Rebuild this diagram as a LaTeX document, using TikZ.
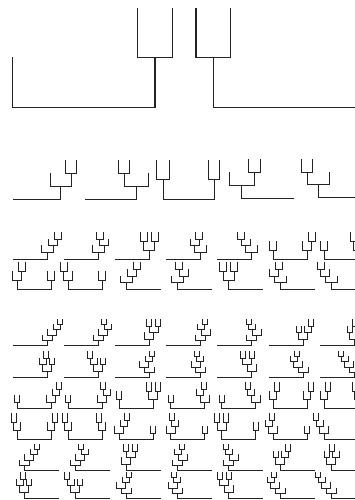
\documentclass[tikz,border=0pt]{standalone}
\usetikzlibrary{calc}
\definecolor{inkgrey}{RGB}{35,35,35}

\tikzset{
  branch/.style={draw=inkgrey, line width=1pt, line cap=rect},
}

% one dendrogram: leaf stub, inner node, root bar
\newcommand{\lv}{10}
\newcommand{\lf}{\draw[branch] (0,0) -- (0,-\lv);}
\newcommand{\br}[3]{\draw[branch] (-#1,0) -- (#1,0);
  \begin{scope}[shift={(-#1,0)}]#2\end{scope}
  \begin{scope}[shift={(#1,0)}]#3\end{scope}}
\newcommand{\nd}[3]{\draw[branch] (0,0) -- (0,-\lv);
  \begin{scope}[shift={(0,-\lv)}]\br{#1}{#2}{#3}\end{scope}}
\newcommand{\dtree}[4]{\begin{scope}[shift={(#1,#2)}]\pgfmathsetmacro{\lv}{#3}#4\end{scope}}

% half widths of the bars and height of a row
\newcommand{\hwr}{17}
\newcommand{\hwa}{3.5}
\newcommand{\hwb}{4.5}
\newcommand{\hwbb}{5.5}
\newcommand{\hwc}{6}
\newcommand{\hwd}{7}
\newcommand{\secH}{27}

% subtrees
\newcommand{\chr}{\nd{\hwa}{\lf}{\lf}}
\newcommand{\thP}{\nd{\hwb}{\lf}{\chr}}
\newcommand{\thQ}{\nd{\hwb}{\chr}{\lf}}
\newcommand{\frA}{\nd{\hwc}{\lf}{\thP}}
\newcommand{\frB}{\nd{\hwc}{\lf}{\thQ}}
\newcommand{\frC}{\nd{\hwbb}{\chr}{\chr}}
\newcommand{\frD}{\nd{\hwc}{\thP}{\lf}}
\newcommand{\frE}{\nd{\hwc}{\thQ}{\lf}}
\newcommand{\fvA}{\nd{\hwd}{\lf}{\frA}}
\newcommand{\fvB}{\nd{\hwd}{\lf}{\frB}}
\newcommand{\fvC}{\nd{\hwc}{\lf}{\frC}}
\newcommand{\fvD}{\nd{\hwd}{\lf}{\frD}}
\newcommand{\fvE}{\nd{\hwd}{\lf}{\frE}}
\newcommand{\fvF}{\nd{\hwc}{\chr}{\thP}}
\newcommand{\fvG}{\nd{\hwc}{\chr}{\thQ}}
\newcommand{\fvH}{\nd{\hwc}{\thP}{\chr}}
\newcommand{\fvI}{\nd{\hwc}{\thQ}{\chr}}
\newcommand{\fvJ}{\nd{\hwd}{\frA}{\lf}}
\newcommand{\fvK}{\nd{\hwd}{\frB}{\lf}}
\newcommand{\fvL}{\nd{\hwc}{\frC}{\lf}}
\newcommand{\fvM}{\nd{\hwd}{\frD}{\lf}}
\newcommand{\fvN}{\nd{\hwd}{\frE}{\lf}}

% whole trees in a column: x0, root y, depth, subtree(s)
\newcommand{\ltree}[4]{\dtree{#1+\hwr}{#2}{\secH/#3}{\br{\hwr}{}{#4}}}
\newcommand{\rtree}[4]{\dtree{#1+45-\hwr}{#2}{\secH/#3}{\br{\hwr}{#4}{}}}
\newcommand{\mtree}[5]{\dtree{#1+21}{#2}{\secH/#3}{\br{\hwr}{#4}{#5}}}

\begin{document}
\begin{tikzpicture}[x=1pt, y=-1pt]
\useasboundingbox (0,0) rectangle (355,500);
\clip (0,0) rectangle (355,500);

% three leaves
\begin{scope}[branch/.append style={line width=1.3pt}]
\dtree{83.9}{107.3}{49.5}{\br{71.2}{\lf}{\nd{17.3}{\lf}{\lf}}}
\dtree{284.5}{107.3}{49.5}{\br{71.2}{\nd{17.2}{\lf}{\lf}}{\lf}}
\end{scope}

% four leaves
\dtree{37}{199.3}{12.9}{\br{23.7}{}{\nd{10.5}{\lf}{\nd{5.5}{\lf}{\lf}}}}
\dtree{110.5}{199.3}{12.9}{\br{25.5}{}{\nd{12}{\nd{5.5}{\lf}{\lf}}{\lf}}}
\dtree{188.7}{199.3}{19.4}{\br{25.3}{\nd{6.5}{\lf}{\lf}}{\nd{5.5}{\lf}{\lf}}}
\dtree{267.5}{198.5}{12.9}{\br{25.8}{\nd{12.5}{\lf}{\nd{6}{\lf}{\lf}}}{}}
\dtree{343.5}{197.8}{12.9}{\br{25.5}{\nd{11}{\nd{5.5}{\lf}{\lf}}{\lf}}{}}

% five leaves
\ltree{13}{259.3}{4}{\frA}
\ltree{64.2}{259.3}{4}{\frB}
\ltree{115.4}{259.3}{3}{\frC}
\ltree{166.6}{259.3}{4}{\frD}
\ltree{217.8}{259.3}{4}{\frE}
\mtree{269}{259.3}{3}{\chr}{\thP}
\mtree{320.2}{259.3}{3}{\chr}{\thQ}
\mtree{13}{289.7}{3}{\thP}{\chr}
\mtree{64.2}{289.7}{3}{\thQ}{\chr}
\rtree{115.4}{289.7}{4}{\frA}
\rtree{166.6}{289.7}{4}{\frB}
\rtree{217.8}{289.7}{3}{\frC}
\rtree{269}{289.7}{4}{\frD}
\rtree{320.2}{289.7}{4}{\frE}

% six leaves
\begin{scope}
\renewcommand{\hwa}{2.5}
\renewcommand{\hwb}{3.5}
\renewcommand{\hwbb}{4.5}
\renewcommand{\hwc}{4.5}
\renewcommand{\hwd}{5}
\renewcommand{\secH}{26}
\ltree{13}{345.5}{5}{\fvA}
\ltree{64.2}{345.5}{5}{\fvB}
\ltree{115.4}{345.5}{4}{\fvC}
\ltree{166.6}{345.5}{5}{\fvD}
\ltree{217.8}{345.5}{5}{\fvE}
\ltree{269}{345.5}{4}{\fvF}
\ltree{320.2}{345.5}{4}{\fvG}
\ltree{13}{377.5}{4}{\fvH}
\ltree{64.2}{377.5}{4}{\fvI}
\ltree{115.4}{377.5}{5}{\fvJ}
\ltree{166.6}{377.5}{5}{\fvK}
\ltree{217.8}{377.5}{4}{\fvL}
\ltree{269}{377.5}{5}{\fvM}
\ltree{320.2}{377.5}{5}{\fvN}
\mtree{13}{408.5}{4}{\chr}{\frA}
\mtree{64.2}{408.5}{4}{\chr}{\frB}
\mtree{115.4}{408.5}{3}{\chr}{\frC}
\mtree{166.6}{408.5}{4}{\chr}{\frD}
\mtree{217.8}{408.5}{4}{\chr}{\frE}
\mtree{269}{408.5}{3}{\thP}{\thP}
\mtree{320.2}{408.5}{3}{\thP}{\thQ}
\mtree{13}{439.5}{3}{\thQ}{\thP}
\mtree{64.2}{439.5}{3}{\thQ}{\thQ}
\mtree{115.4}{439.5}{4}{\frA}{\chr}
\mtree{166.6}{439.5}{4}{\frB}{\chr}
\mtree{217.8}{439.5}{3}{\frC}{\chr}
\mtree{269}{439.5}{4}{\frD}{\chr}
\mtree{320.2}{439.5}{4}{\frE}{\chr}
\rtree{13}{470.5}{5}{\fvA}
\rtree{64.2}{470.5}{5}{\fvB}
\rtree{115.4}{470.5}{4}{\fvC}
\rtree{166.6}{470.5}{5}{\fvD}
\rtree{217.8}{470.5}{5}{\fvE}
\rtree{269}{470.5}{4}{\fvF}
\rtree{320.2}{470.5}{4}{\fvG}
\rtree{13}{498.5}{4}{\fvH}
\rtree{64.2}{498.5}{4}{\fvI}
\rtree{115.4}{498.5}{5}{\fvJ}
\rtree{166.6}{498.5}{5}{\fvK}
\rtree{217.8}{498.5}{4}{\fvL}
\rtree{269}{498.5}{5}{\fvM}
\rtree{320.2}{498.5}{5}{\fvN}
\end{scope}
\end{tikzpicture}
\end{document}
